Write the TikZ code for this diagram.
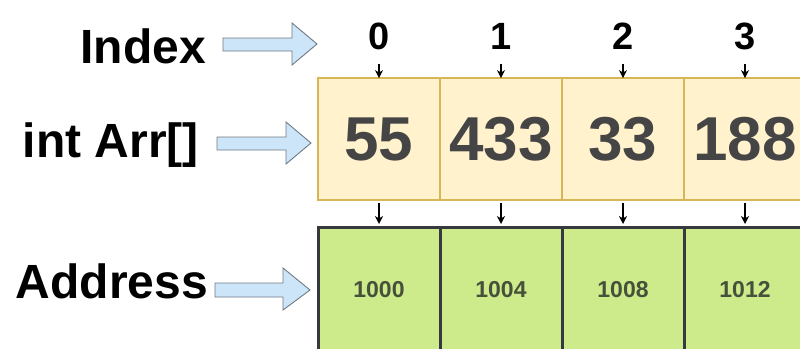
\documentclass[tikz,border=0pt]{standalone}
\usepackage{fontspec}
\setmainfont{Liberation Sans}
\usetikzlibrary{arrows.meta}
\definecolor{yfill}{HTML}{FFF2CC}
\definecolor{ydraw}{HTML}{D6B656}
\definecolor{gfill}{HTML}{CDEB8B}
\definecolor{gdraw}{HTML}{36393D}
\definecolor{valtxt}{HTML}{454545}
\definecolor{addrtxt}{HTML}{46503A}
\definecolor{bafill}{HTML}{CCE5F8}
\definecolor{badraw}{HTML}{6F7A85}
\begin{document}
\begin{tikzpicture}[x=1pt,y=-1pt,
  valcell/.style={draw=ydraw,fill=yfill,line width=2.8pt,minimum width=122pt,minimum height=122pt,inner sep=0pt,
    text=valtxt,font=\fontsize{62}{62}\selectfont\bfseries},
  addrcell/.style={draw=gdraw,fill=gfill,line width=3pt,minimum width=122pt,minimum height=140pt,inner sep=0pt},
  addrtext/.style={font=\fontsize{23}{23}\selectfont\bfseries,text=addrtxt},
  idxlbl/.style={font=\fontsize{38}{38}\selectfont\bfseries,inner sep=0pt},
  sidelbl/.style={font=\fontsize{48}{48}\selectfont\bfseries,inner sep=0pt,anchor=base east},
  blockarrow/.style={draw=badraw,fill=bafill,line width=0.9pt,line join=miter},
  small/.style={-{Stealth[length=8pt,width=8pt,inset=2.5pt]},line width=1.1pt,black}]
\clip (0,0) rectangle (800,348);
\fill[white] (0,0) rectangle (800,348);
% value cells
\node[valcell] (v0) at (379,139) {55};
\node[valcell] (v1) at (501,139) {433};
\node[valcell] (v2) at (623,139) {33};
\node[valcell] (v3) at (745,139) {188};
% address cells
\node[addrcell] (a0) at (379,297) {};
\node[addrcell] (a1) at (501,297) {};
\node[addrcell] (a2) at (623,297) {};
\node[addrcell] (a3) at (745,297) {};
\node[addrtext] (t0) at (379,290) {1000};
\node[addrtext] (t1) at (501,290) {1004};
\node[addrtext] (t2) at (623,290) {1008};
\node[addrtext] (t3) at (745,290) {1012};
% index numbers
\node[idxlbl] (i0) at (379,36) {0};
\node[idxlbl] (i1) at (501,36) {1};
\node[idxlbl] (i2) at (623,36) {2};
\node[idxlbl] (i3) at (745,36) {3};
\foreach \k in {0,1,2,3}{
  \draw[small] ([yshift=-28pt]i\k.center) -- ([yshift=-1.5pt]v\k.north);
  \draw[small] ([yshift=-1.5pt]v\k.south) -- ([yshift=1.5pt]a\k.north);
}
% side labels
\node[sidelbl] (lidx) at (206,63) {Index};
\node[sidelbl] (larr) at (199,157) {int Arr[]};
\node[sidelbl] (ladr) at (208,298) {Address};
% block arrows
\draw[blockarrow] (223,38) -- (292,38) -- (292,23) -- (317,44) -- (292,65) -- (292,51) -- (223,51) -- cycle;
\draw[blockarrow] (217,137) -- (286,137) -- (286,122) -- (311,143) -- (286,164) -- (286,150) -- (217,150) -- cycle;
\draw[blockarrow] (215,283) -- (283,283) -- (283,268) -- (310,290) -- (283,310) -- (283,297) -- (215,297) -- cycle;
\end{tikzpicture}
\end{document}
